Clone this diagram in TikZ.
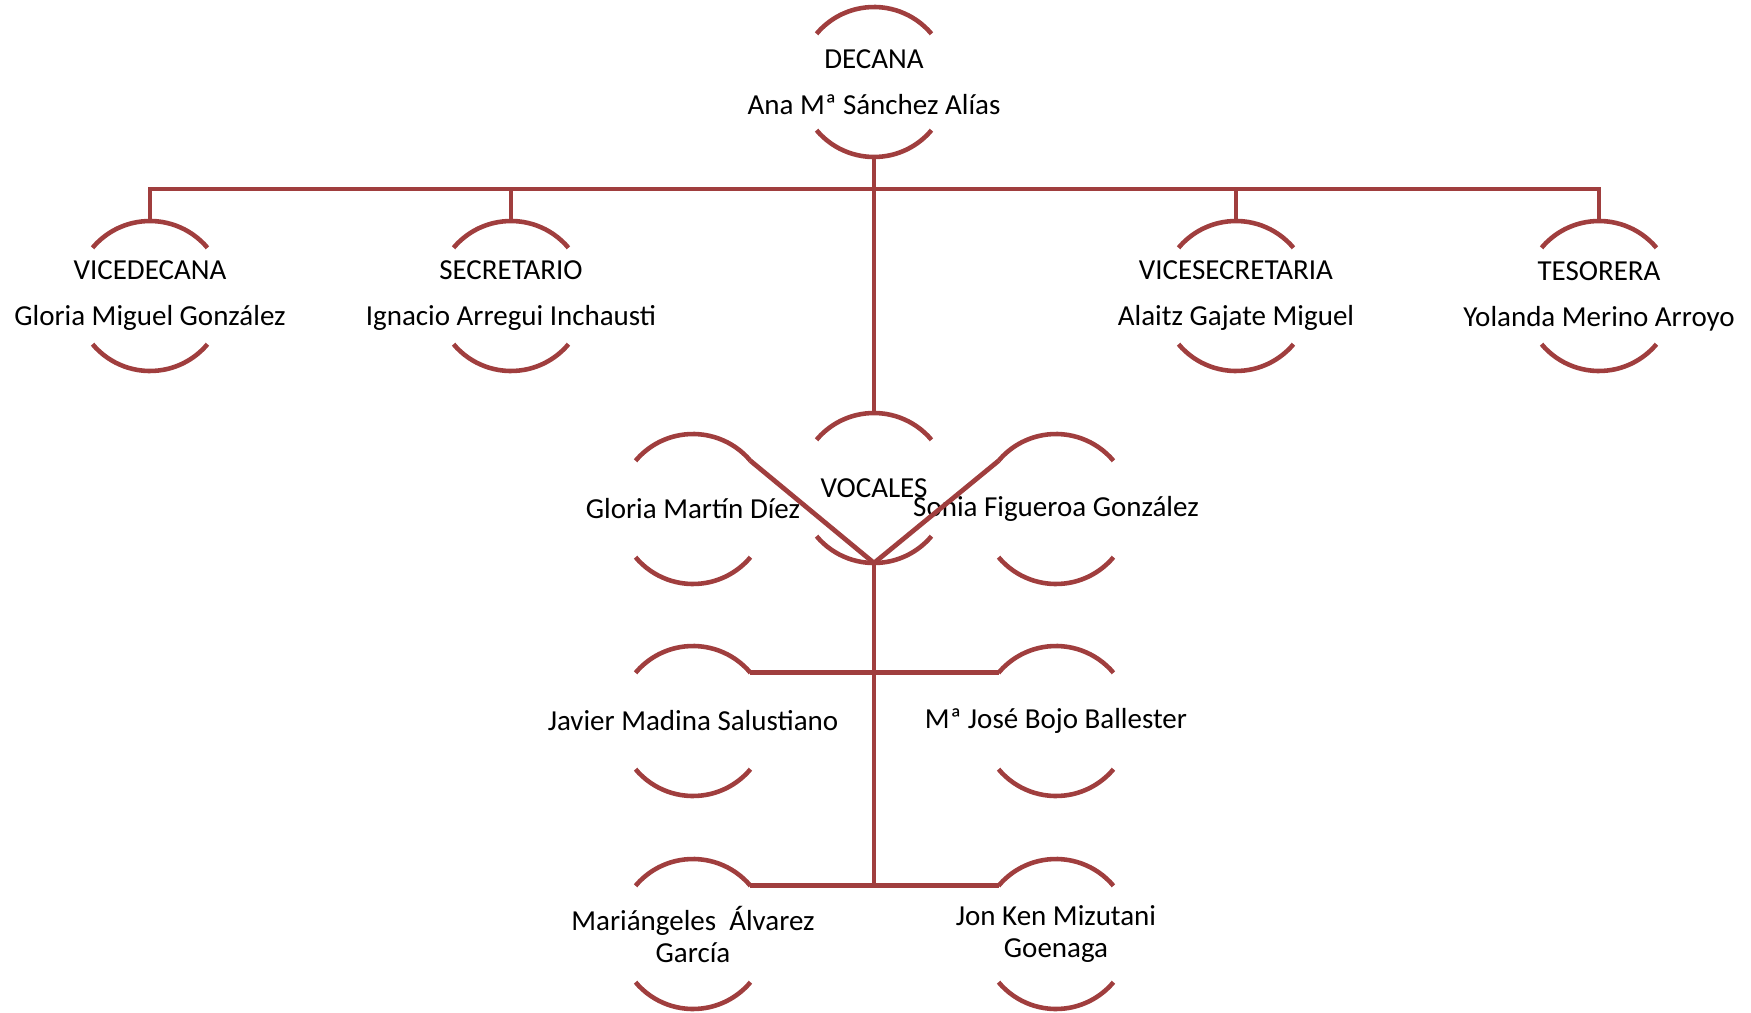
\documentclass[tikz,border=0pt]{standalone}
\usepackage{fontspec}
\setmainfont{Carlito}
\usetikzlibrary{calc}
\definecolor{chartred}{RGB}{160,62,62}

\begin{document}
\begin{tikzpicture}[x=0.2mm,y=-0.2mm]
      \tikzset{member/.style={inner sep=0pt,
          align=center,
          font=\fontsize{16.5}{18.2}\selectfont},
        link/.style={draw=chartred, line width=2.7pt},
        ring/.style={draw=chartred, line width=2.6pt}
      }
      \useasboundingbox (0,0) rectangle (1751,1013);
      \node [member] (dec) at (874,82) {DECANA\\[8pt]Ana Mª Sánchez Alías};
      \node [member] (vd) at (150,296) {VICEDECANA\\[8pt]Gloria Miguel González};
      \node [member] (sec) at (511,296) {SECRETARIO\\[8pt]Ignacio Arregui Inchausti};
      \node [member] (vs) at (1236,296) {VICESECRETARIA\\[8pt]Alaitz Gajate Miguel};
      \node [member] (tes) at (1599,296) {TESORERA\\[8pt]Yolanda Merino Arroyo};
      \node [member] (voc) at (874,488) {VOCALES};
      \node [member] (gm) at (693,509) {Gloria Martín Díez};
      \node [member] (sf) at (1056,509) {Sonia Figueroa González};
      \node [member] (jm) at (693,721) {Javier Madina Salustiano};
      \node [member] (mj) at (1056,721) {Mª José Bojo Ballester};
      \node [member] (ma) at (693,934) {Mariángeles\ \ Álvarez\\García};
      \node [member] (jk) at (1056,934) {Jon Ken Mizutani\\Goenaga};

      % open rings round each name
      \foreach \n in {dec,vd,sec,vs,tes,voc,gm,sf,jm,mj,ma,jk}{
        \coordinate (\n-t) at ($(\n)+(90:1.5cm)$);
        \coordinate (\n-b) at ($(\n)+(270:1.5cm)$);
        \coordinate (\n-ne) at ($(\n)+(40:1.5cm)$);
        \coordinate (\n-nw) at ($(\n)+(140:1.5cm)$);
        \draw [ring] (\n-ne) arc [start angle=40, end angle=140, radius=1.5cm];
        \draw [ring] ($(\n)+(220:1.5cm)$) arc [start angle=220, end angle=320, radius=1.5cm];
      }

      \coordinate (bar) at (874,189);
      \draw [link] (dec-b)--(bar);
      \draw [link] (vd-t)--(vd-t |- bar)--(tes-t |- bar)--(tes-t);
      \draw [link] (sec-t)--(sec-t |- bar);
      \draw [link] (vs-t)--(vs-t |- bar);
      \draw [link] (bar)--(voc-t);

      \draw [link] (gm-ne)--(voc-b)--(sf-nw);
      \draw [link] (voc-b)--(voc-b |- ma-ne);
      \draw [link] (jm-ne)--(mj-nw);
      \draw [link] (ma-ne)--(jk-nw);
    \end{tikzpicture}
\end{document}
